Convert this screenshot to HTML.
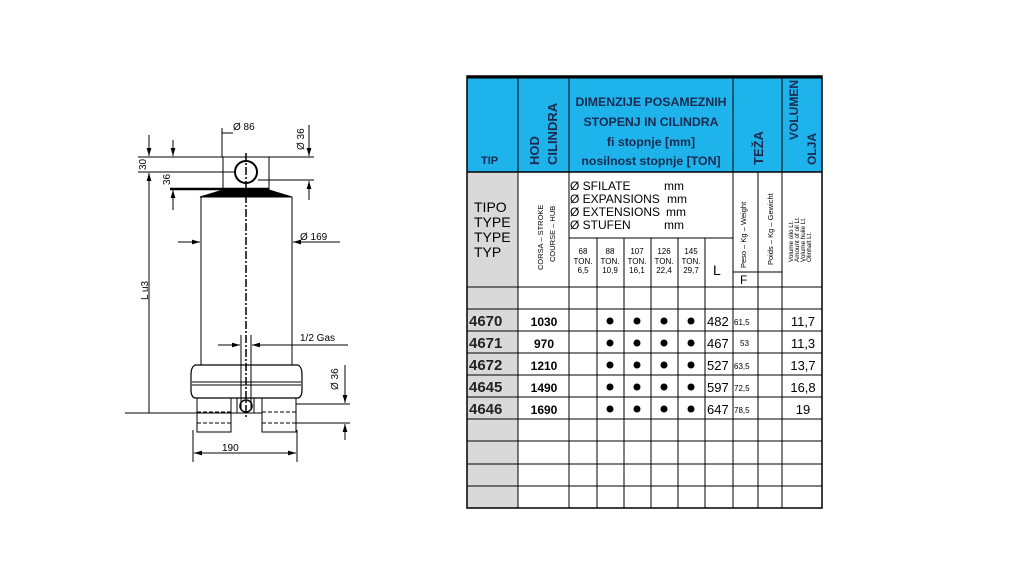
<!DOCTYPE html>
<html><head><meta charset="utf-8"><style>
html,body{margin:0;padding:0;background:#fff;width:1024px;height:576px;overflow:hidden;font-family:"Liberation Sans",sans-serif}
svg{position:absolute;left:0;top:0}
</style></head><body>
<svg width="1024" height="576" viewBox="0 0 1024 576" xmlns="http://www.w3.org/2000/svg" font-family="Liberation Sans, sans-serif">
<defs>
<marker id="a" viewBox="0 0 10 6" refX="10" refY="3" markerWidth="8" markerHeight="5" orient="auto-start-reverse"><path d="M0,0L10,3L0,6z" fill="#000"/></marker>
</defs>
<g stroke="#000" fill="none" stroke-width="1">
<rect x="223" y="157" width="46" height="32"/>
<circle cx="246" cy="172" r="11" stroke-width="2"/>
<line x1="170" y1="189" x2="269" y2="189" stroke-width="2.5"/>
<polygon points="223,190 269,190 292,197 200,197" fill="#000"/>
<rect x="201" y="197" width="91" height="168"/>
<path d="M195,365 H298 Q302,367 302,375 V390 Q302,397 298,398 H195 Q191,397 191,390 V375 Q191,367 195,365Z" stroke-width="1.2"/>
<line x1="192" y1="382" x2="301" y2="382"/>
<line x1="192" y1="385" x2="301" y2="385"/>
<rect x="197" y="398" width="34" height="34"/>
<rect x="262" y="398" width="34" height="34"/>
<rect x="237" y="398" width="17" height="15"/>
<line x1="197" y1="412" x2="231" y2="412" stroke-dasharray="4,2"/>
<line x1="197" y1="423" x2="231" y2="423" stroke-dasharray="4,2"/>
<line x1="262" y1="412" x2="296" y2="412" stroke-dasharray="4,2"/>
<line x1="262" y1="423" x2="296" y2="423" stroke-dasharray="4,2"/>
<circle cx="246" cy="406" r="6" stroke-width="1.5"/>
<line x1="246" y1="153" x2="246" y2="418" stroke-width="1.5" stroke-dasharray="8,2,2,2"/>
<line x1="241" y1="335" x2="241" y2="410"/>
<line x1="251" y1="335" x2="251" y2="410"/>
<line x1="138" y1="157" x2="223" y2="157"/>
<line x1="138" y1="172" x2="235" y2="172"/>
<line x1="149" y1="135" x2="149" y2="156" marker-end="url(#a)"/>
<line x1="149" y1="413" x2="149" y2="173" marker-end="url(#a)"/>
<line x1="173" y1="140" x2="173" y2="156" marker-end="url(#a)"/>
<line x1="173" y1="210" x2="173" y2="190" marker-end="url(#a)"/>
<line x1="125" y1="413" x2="262" y2="413"/>
<line x1="222" y1="128" x2="222" y2="157"/>
<line x1="222" y1="133" x2="233" y2="133"/>
<line x1="246" y1="157" x2="314" y2="157"/>
<line x1="258" y1="180" x2="314" y2="180"/>
<line x1="309" y1="125" x2="309" y2="156" marker-end="url(#a)"/>
<line x1="309" y1="200" x2="309" y2="181" marker-end="url(#a)"/>
<line x1="178" y1="242" x2="200" y2="242" marker-end="url(#a)"/>
<line x1="340" y1="242" x2="293" y2="242" marker-end="url(#a)"/>
<line x1="218" y1="345" x2="240" y2="345" marker-end="url(#a)"/>
<line x1="348" y1="345" x2="252" y2="345" marker-end="url(#a)"/>
<line x1="296" y1="404" x2="350" y2="404"/>
<line x1="296" y1="423" x2="350" y2="423"/>
<line x1="345" y1="365" x2="345" y2="403" marker-end="url(#a)"/>
<line x1="345" y1="440" x2="345" y2="424" marker-end="url(#a)"/>
<line x1="193" y1="430" x2="193" y2="462"/>
<line x1="297" y1="430" x2="297" y2="462"/>
<line x1="194" y1="453" x2="296" y2="453" marker-start="url(#a)" marker-end="url(#a)"/>
</g>
<g font-size="10" fill="#000">
<text x="233" y="130">Ø 86</text>
<text x="300" y="240">Ø 169</text>
<text x="300" y="341">1/2 Gas</text>
<text x="222" y="451">190</text>
<text transform="translate(146,170) rotate(-90)">30</text>
<text transform="translate(170,185) rotate(-90)">36</text>
<text transform="translate(148,300) rotate(-90)">L  u3</text>
<text transform="translate(304,150) rotate(-90)">Ø 36</text>
<text transform="translate(338,390) rotate(-90)">Ø 36</text>
</g>

<rect x="467" y="76" width="355" height="96" fill="#1eb3ea"/>
<rect x="467" y="172" width="51" height="336" fill="#d9d9d9"/>
<g stroke="#000" stroke-width="1" fill="none">
<rect x="467" y="76" width="355" height="432" stroke-width="1.5"/>
<line x1="467" y1="77" x2="822" y2="77" stroke-width="3"/>
<line x1="467" y1="172" x2="822" y2="172" stroke-width="1.5"/>
<line x1="518" y1="76" x2="518" y2="508"/>
<line x1="569" y1="76" x2="569" y2="508"/>
<line x1="733" y1="76" x2="733" y2="508"/>
<line x1="782" y1="76" x2="782" y2="508"/>
<line x1="569" y1="238" x2="733" y2="238"/>
<line x1="597" y1="238" x2="597" y2="508"/>
<line x1="624" y1="238" x2="624" y2="508"/>
<line x1="651" y1="238" x2="651" y2="508"/>
<line x1="678" y1="238" x2="678" y2="508"/>
<line x1="705" y1="238" x2="705" y2="508"/>
<line x1="758" y1="172" x2="758" y2="508"/>
<line x1="733" y1="272" x2="782" y2="272"/>
<line x1="467" y1="287" x2="822" y2="287"/>
<line x1="467" y1="309" x2="822" y2="309"/>
<line x1="467" y1="331" x2="822" y2="331"/>
<line x1="467" y1="353" x2="822" y2="353"/>
<line x1="467" y1="375" x2="822" y2="375"/>
<line x1="467" y1="397" x2="822" y2="397"/>
<line x1="467" y1="419" x2="822" y2="419"/>
<line x1="467" y1="441" x2="822" y2="441"/>
<line x1="467" y1="464" x2="822" y2="464"/>
<line x1="467" y1="486" x2="822" y2="486"/>
</g>
<g font-weight="bold" fill="#1a2a50" font-size="11">
<text x="481" y="164">TIP</text>
<text transform="translate(539,165) rotate(-90)" font-size="13">HOD</text>
<text transform="translate(557,165) rotate(-90)" font-size="13">CILINDRA</text>
<g text-anchor="middle" font-size="12.3">
<text x="651" y="106">DIMENZIJE POSAMEZNIH</text>
<text x="651" y="126">STOPENJ IN CILINDRA</text>
<text x="651" y="146">fi stopnje [mm]</text>
<text x="651" y="165">nosilnost stopnje [TON]</text>
</g>
<text transform="translate(763,165) rotate(-90)" font-size="13">TEŽA</text>
<text transform="translate(798,140) rotate(-90)" font-size="12">VOLUMEN</text>
<text transform="translate(816,165) rotate(-90)" font-size="12">OLJA</text>
</g>
<g fill="#000" font-size="14">
<text x="474" y="212">TIPO</text>
<text x="474" y="227">TYPE</text>
<text x="474" y="242">TYPE</text>
<text x="474" y="257">TYP</text>
</g>
<g fill="#000" font-size="7.5">
<text transform="translate(543,270) rotate(-90)">CORSA – STROKE</text>
<text transform="translate(555,262) rotate(-90)">COURSE – HUB</text>
<text transform="translate(746,268) rotate(-90)">Peso – Kg – Weight</text>
<text transform="translate(773,265) rotate(-90)">Poids – Kg – Gewicht</text>
<g font-size="6.3">
<text transform="translate(793,262) rotate(-90)">Volume olio Lt.</text>
<text transform="translate(799,262) rotate(-90)">Amount of oil Lt.</text>
<text transform="translate(805,262) rotate(-90)">Volume huile Lt.</text>
<text transform="translate(811,262) rotate(-90)">Ölinhalt Lt.</text>
</g>
</g>
<g fill="#000" font-size="12">
<text x="570" y="190">Ø SFILATE</text><text x="664" y="190">mm</text>
<text x="570" y="203">Ø EXPANSIONS</text><text x="667" y="203">mm</text>
<text x="570" y="216">Ø EXTENSIONS</text><text x="666" y="216">mm</text>
<text x="570" y="229">Ø STUFEN</text><text x="664" y="229">mm</text>
<text x="713" y="275" font-size="14">L</text>
<text x="740" y="284">F</text>
</g>
<g fill="#000" font-size="8" text-anchor="middle">
<text x="583" y="254">68</text><text x="583" y="264">TON.</text><text x="583" y="273">6,5</text>
<text x="610" y="254">88</text><text x="610" y="264">TON.</text><text x="610" y="273">10,9</text>
<text x="637" y="254">107</text><text x="637" y="264">TON.</text><text x="637" y="273">16,1</text>
<text x="664" y="254">126</text><text x="664" y="264">TON.</text><text x="664" y="273">22,4</text>
<text x="691" y="254">145</text><text x="691" y="264">TON.</text><text x="691" y="273">29,7</text>
</g>
<g fill="#222" font-weight="bold" font-size="15">
<text x="469" y="326">4670</text>
<text x="469" y="348">4671</text>
<text x="469" y="370">4672</text>
<text x="469" y="392">4645</text>
<text x="469" y="414">4646</text>
</g>
<g fill="#000" font-weight="bold" font-size="12" text-anchor="middle">
<text x="544" y="326">1030</text>
<text x="544" y="348">970</text>
<text x="544" y="370">1210</text>
<text x="544" y="392">1490</text>
<text x="544" y="414">1690</text>
</g>
<g fill="#000">
<circle cx="610" cy="321" r="3.5"/><circle cx="637" cy="321" r="3.5"/><circle cx="664" cy="321" r="3.5"/><circle cx="691" cy="321" r="3.5"/>
<circle cx="610" cy="343" r="3.5"/><circle cx="637" cy="343" r="3.5"/><circle cx="664" cy="343" r="3.5"/><circle cx="691" cy="343" r="3.5"/>
<circle cx="610" cy="365" r="3.5"/><circle cx="637" cy="365" r="3.5"/><circle cx="664" cy="365" r="3.5"/><circle cx="691" cy="365" r="3.5"/>
<circle cx="610" cy="387" r="3.5"/><circle cx="637" cy="387" r="3.5"/><circle cx="664" cy="387" r="3.5"/><circle cx="691" cy="387" r="3.5"/>
<circle cx="610" cy="409" r="3.5"/><circle cx="637" cy="409" r="3.5"/><circle cx="664" cy="409" r="3.5"/><circle cx="691" cy="409" r="3.5"/>
</g>
<g fill="#000" font-size="13">
<text x="707" y="326">482</text><text x="707" y="348">467</text><text x="707" y="370">527</text><text x="707" y="392">597</text><text x="707" y="414">647</text>
</g>
<g fill="#000" font-size="8">
<text x="734" y="325">61,5</text><text x="740" y="346">53</text><text x="734" y="369">63,5</text><text x="734" y="391">72,5</text><text x="734" y="413">78,5</text>
</g>
<g fill="#000" font-size="13" text-anchor="middle">
<text x="803" y="326">11,7</text><text x="803" y="348">11,3</text><text x="803" y="370">13,7</text><text x="803" y="392">16,8</text><text x="803" y="414">19</text>
</g>
</svg>
</body></html>
